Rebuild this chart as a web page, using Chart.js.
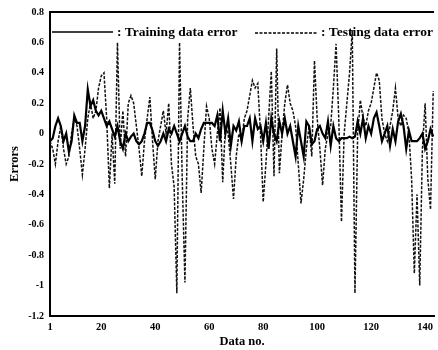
<!DOCTYPE html>
<html>
<head>
<meta charset="utf-8">
<script src="https://cdn.jsdelivr.net/npm/chart.js@4/dist/chart.umd.min.js"></script>
<style>
  html, body { margin: 0; padding: 0; background: #fff; }
  #wrap { width: 438px; height: 350px; }
</style>
</head>
<body>
<div id="wrap"><canvas id="c" width="438" height="350"></canvas></div>
<script>
const dataNo = [1,2,3,4,5,6,7,8,9,10,11,12,13,14,15,16,17,18,19,20,
  21,22,23,24,25,26,27,28,29,30,31,32,33,34,35,36,37,38,39,40,
  41,42,43,44,45,46,47,48,49,50,51,52,53,54,55,56,57,58,59,60,
  61,62,63,64,65,66,67,68,69,70,71,72,73,74,75,76,77,78,79,80,
  81,82,83,84,85,86,87,88,89,90,91,92,93,94,95,96,97,98,99,100,
  101,102,103,104,105,106,107,108,109,110,111,112,113,114,115,116,117,118,119,120,
  121,122,123,124,125,126,127,128,129,130,131,132,133,134,135,136,137,138,139,140,
  141,142,143];

const trainingError = [
  -0.05,-0.03,0.05,0.10,0.05,-0.05,0.00,-0.12,-0.05,0.12,
  0.07,0.07,-0.05,0.05,0.29,0.18,0.22,0.15,0.12,0.15,
  0.10,0.05,0.08,0.03,-0.02,0.05,-0.05,-0.10,0.00,-0.05,
  -0.02,0.00,-0.05,-0.07,-0.05,0.00,0.07,0.07,0.02,-0.05,
  -0.08,-0.05,0.00,-0.05,0.03,0.00,0.05,0.00,-0.05,0.00,
  0.05,-0.02,-0.05,-0.05,0.00,-0.03,0.03,0.07,0.07,0.07,
  0.07,0.05,0.12,-0.05,0.15,0.00,0.10,-0.08,0.05,0.02,
  0.08,-0.05,0.05,0.05,0.10,-0.05,0.10,0.03,0.05,-0.05,
  0.07,-0.10,0.10,0.00,-0.05,0.08,0.00,0.10,0.00,0.05,
  -0.05,-0.15,0.05,-0.05,-0.15,0.08,0.05,-0.07,-0.05,0.03,
  0.05,0.00,-0.03,0.08,-0.08,0.05,-0.03,-0.05,-0.03,-0.03,
  -0.03,-0.02,-0.03,-0.02,0.08,0.00,0.10,-0.03,0.05,0.00,
  0.10,0.14,0.05,-0.05,0.00,0.05,-0.08,0.03,-0.05,0.08,
  0.13,0.05,-0.10,0.02,-0.05,-0.05,-0.05,-0.03,0.00,-0.10,
  -0.05,0.03,-0.02];

const testingError = [
  -0.05,-0.10,-0.20,-0.05,0.05,-0.10,-0.20,-0.15,0.00,0.10,
  0.05,-0.10,-0.27,-0.10,0.10,0.20,0.10,0.15,0.30,0.38,
  0.40,0.10,-0.36,0.00,-0.33,0.60,-0.10,0.15,-0.15,0.20,
  0.25,0.20,0.05,-0.10,-0.28,-0.05,0.10,0.24,-0.05,-0.30,
  -0.05,0.05,0.15,0.00,0.20,-0.20,-0.35,-1.05,0.60,-0.30,
  -0.98,0.10,0.30,0.05,-0.15,-0.20,-0.39,-0.10,0.18,0.10,
  -0.10,-0.20,0.00,0.17,-0.32,0.05,0.00,-0.20,-0.43,-0.15,
  0.00,-0.05,0.10,0.15,0.25,0.35,0.30,0.33,0.00,-0.45,
  -0.20,0.10,0.41,-0.28,0.56,-0.26,0.00,0.20,0.32,0.20,
  0.15,0.05,-0.20,-0.46,-0.30,-0.10,0.05,-0.15,0.48,0.10,
  -0.10,-0.34,-0.10,0.00,0.05,0.30,0.59,0.10,-0.58,0.00,
  0.20,0.40,0.68,-1.05,0.00,0.22,0.10,0.05,0.15,0.20,
  0.30,0.40,0.35,0.10,0.00,-0.05,0.05,0.15,0.30,0.10,
  0.05,0.12,0.10,0.00,-0.30,-0.92,-0.40,-1.00,-0.10,0.20,
  -0.30,-0.50,0.28];

const xTicks = [1, 20, 40, 60, 80, 100, 120, 140];
const yTicks = [0.8, 0.6, 0.4, 0.2, 0, -0.2, -0.4, -0.6, -0.8, -1, -1.2];
const legendLabels = [': Training data error', ': Testing data error'];

const SERIF = '"Liberation Serif", "DejaVu Serif", serif';

const frameAndLegend = {
  id: 'frameAndLegend',
  afterDatasetsDraw(chart) {
    const ctx = chart.ctx;
    const a = chart.chartArea;
    ctx.save();
    ctx.strokeStyle = '#000';
    ctx.lineWidth = 2;
    ctx.beginPath();
    ctx.moveTo(a.left, a.top);
    ctx.lineTo(a.right, a.top);
    ctx.stroke();

    // legend
    const ly = a.top + 20;
    ctx.lineWidth = 1.6;
    ctx.setLineDash([]);
    ctx.beginPath();
    ctx.moveTo(a.left + 2, ly);
    ctx.lineTo(a.left + 63, ly);
    ctx.stroke();
    ctx.setLineDash([3, 1.5]);
    ctx.lineWidth = 1.3;
    ctx.beginPath();
    ctx.moveTo(a.left + 205, ly + 1);
    ctx.lineTo(a.left + 268, ly + 1);
    ctx.stroke();
    ctx.setLineDash([]);
    ctx.fillStyle = '#000';
    ctx.font = 'bold 13.5px ' + SERIF;
    ctx.textBaseline = 'middle';
    ctx.textAlign = 'left';
    ctx.fillText(legendLabels[0], a.left + 67, ly + 1);
    ctx.fillText(legendLabels[1], a.left + 271, ly + 1);
    ctx.restore();
  }
};

new Chart(document.getElementById('c'), {
  type: 'line',
  data: {
    datasets: [
      {
        label: 'Training data error',
        data: dataNo.map((x, i) => ({ x: x, y: trainingError[i] })),
        borderColor: '#000',
        borderWidth: 2.2,
        pointRadius: 0,
        tension: 0,
        fill: false
      },
      {
        label: 'Testing data error',
        data: dataNo.map((x, i) => ({ x: x, y: testingError[i] })),
        borderColor: '#111',
        borderWidth: 1.5,
        borderDash: [3, 1.5],
        pointRadius: 0,
        tension: 0,
        fill: false
      }
    ]
  },
  options: {
    responsive: false,
    animation: false,
    events: [],
    layout: { padding: { top: 12, right: 0, left: 0, bottom: 0 } },
    plugins: {
      legend: { display: false },
      tooltip: { enabled: false }
    },
    scales: {
      x: {
        type: 'linear',
        min: 1,
        max: 143.3,
        afterBuildTicks: (axis) => { axis.ticks = xTicks.map(v => ({ value: v })); },
        afterFit: (axis) => { axis.height = 34; },
        grid: { display: false, drawTicks: false },
        border: { display: true, color: '#000', width: 2 },
        ticks: {
          color: '#000',
          font: { family: SERIF, size: 10.5, weight: 'bold' },
          padding: 5,
          maxRotation: 0,
          autoSkip: false,
          callback: (v) => String(v)
        },
        title: {
          display: true,
          text: 'Data no.',
          color: '#000',
          font: { family: SERIF, size: 12.5, weight: 'bold' },
          padding: { top: 0, bottom: 1 }
        }
      },
      y: {
        type: 'linear',
        min: -1.2,
        max: 0.8,
        afterBuildTicks: (axis) => { axis.ticks = yTicks.map(v => ({ value: v })); },
        afterFit: (axis) => { axis.width = 50; },
        grid: { display: false, drawTicks: false },
        border: { display: true, color: '#000', width: 2 },
        ticks: {
          color: '#000',
          font: { family: SERIF, size: 10, weight: 'bold' },
          padding: 6,
          autoSkip: false,
          callback: (v) => String(Math.round(v * 10) / 10)
        },
        title: {
          display: true,
          text: 'Errors',
          color: '#000',
          font: { family: SERIF, size: 12.5, weight: 'bold' },
          padding: { top: 7, bottom: 0 }
        }
      }
    }
  },
  plugins: [frameAndLegend]
});
</script>
</body>
</html>
